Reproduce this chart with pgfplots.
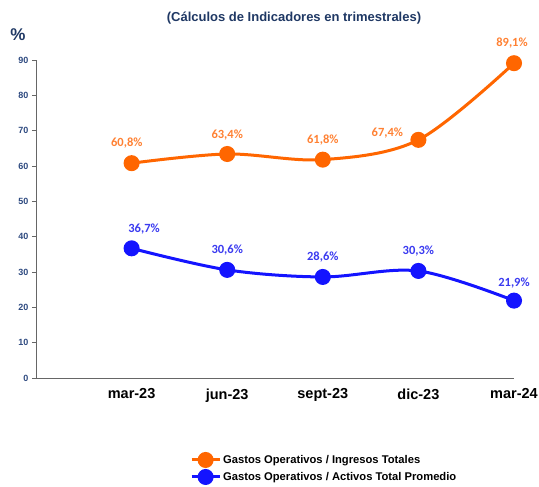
\documentclass[border=0pt]{standalone}
\usepackage{pgfplots}
\pgfplotsset{compat=1.18}
\usepackage{fontspec}
\setmainfont{Liberation Sans}
\newfontfamily\calib{Carlito}
\definecolor{navy}{HTML}{1F3864}
\definecolor{tickblue}{HTML}{2E4A80}
\definecolor{orln}{HTML}{FF6600}
\definecolor{orlb}{HTML}{FF8133}
\definecolor{blln}{HTML}{1414FF}
\definecolor{bllb}{HTML}{3A3AF0}
\begin{document}
\begin{tikzpicture}[x=1bp,y=1bp]
\path[use as bounding box] (-36,-109) rectangle (503,378);
\begin{axis}[
  at={(0,0)}, anchor=south west,
  scale only axis, width=478bp, height=318bp,
  xmin=-1, xmax=4, ymin=0, ymax=90,
  axis lines*=left,
  axis line style={draw=gray!80!black, line width=1pt},
  xtick={0,1,2,3,4},
  xticklabels={mar-23,jun-23,sept-23,dic-23,mar-24},
  x tick label style={font=\bfseries\fontsize{14.5bp}{16bp}\selectfont, text=black, yshift=-3bp},
  major x tick style={draw=none},
  ytick={0,10,...,90},
  y tick label style={font=\bfseries\fontsize{9bp}{10bp}\selectfont, text=tickblue},
  /pgf/number format/assume math mode=true,
  tick align=outside,
  major tick length=4bp,
  y tick style={draw=gray!80!black, line width=0.8pt},
  clip=false,
  legend style={at={(axis description cs:0.322,-0.232)}, anchor=north west, draw=none, fill=none,
    font=\bfseries\fontsize{11.2bp}{12bp}\selectfont, row sep=1bp, inner sep=0pt},
  legend cell align=left,
  legend image code/.code={
    \draw[#1, line width=3bp] (0bp,0bp) -- (28bp,0bp);
    \fill[#1] (14bp,0bp) circle (6.5bp);
  },
]
\addplot[orln, line width=3bp, smooth, tension=0.55, mark=*, mark size=6.5bp, mark options={fill=orln, draw=orln}]
  coordinates {(0,60.8) (1,63.4) (2,61.8) (3,67.4) (4,89.1)};
\addlegendentry{Gastos Operativos / Ingresos Totales}
\addplot[blln, line width=3bp, smooth, tension=0.55, mark=*, mark size=6.5bp, mark options={fill=blln, draw=blln}]
  coordinates {(0,36.7) (1,30.6) (2,28.6) (3,30.3) (4,21.9)};
\addlegendentry{Gastos Operativos / Activos Total Promedio}
\begin{scope}[every node/.style={font=\calib\bfseries\fontsize{12.5bp}{14bp}\selectfont}]
\node[text=orlb] at (axis cs:-0.05,60.8) [yshift=20bp] {60,8\%};
\node[text=orlb] at (axis cs:1,63.4) [yshift=19bp] {63,4\%};
\node[text=orlb] at (axis cs:2,61.8) [yshift=20bp] {61,8\%};
\node[text=orlb] at (axis cs:3,67.4) [xshift=-31bp,yshift=7bp] {67,4\%};
\node[text=orlb] at (axis cs:4,89.1) [yshift=20bp,xshift=-2bp] {89,1\%};
\node[text=bllb] at (axis cs:0.13,36.7) [yshift=19bp] {36,7\%};
\node[text=bllb] at (axis cs:1,30.6) [yshift=20bp] {30,6\%};
\node[text=bllb] at (axis cs:2,28.6) [yshift=20bp] {28,6\%};
\node[text=bllb] at (axis cs:3,30.3) [yshift=20bp] {30,3\%};
\node[text=bllb] at (axis cs:4,21.9) [yshift=18bp] {21,9\%};
\end{scope}
\end{axis}
\node[font=\bfseries\fontsize{13bp}{15bp}\selectfont, text=navy] at (258,360) {(Cálculos de Indicadores en trimestrales)};
\node[font=\bfseries\fontsize{17bp}{18bp}\selectfont, text=navy] at (-18,343) {\%};
\end{tikzpicture}
\end{document}
